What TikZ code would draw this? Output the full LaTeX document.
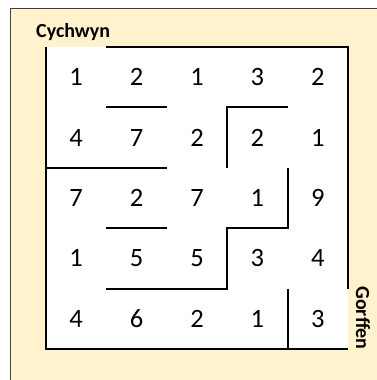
\documentclass[tikz,border=0pt]{standalone}
\usepackage{fontspec}
\setmainfont{Carlito}
\definecolor{bgyellow}{HTML}{FFF2CC}
\definecolor{bordergray}{HTML}{404040}
\begin{document}
\begin{tikzpicture}[x=1pt,y=-1pt,
  wall/.style={line width=2pt,black,line join=miter},
  digit/.style={font=\fontsize{26.5}{30}\selectfont,inner sep=0pt,anchor=center},
  label/.style={font=\fontsize{20}{24}\selectfont\bfseries,inner sep=0pt}]
\useasboundingbox (0,0) rectangle (377,380);
\clip (0,0) rectangle (377,380);
\draw[fill=bgyellow,draw=bordergray,line width=0.8pt] (10.3,8) rectangle (400,400);
\fill[white] (46,47) rectangle (348,349);
\begin{scope}[shift={(46,47)},x=60.4pt,y=-60.4pt]
  % numbers
  \foreach \r/\row in {1/{1,2,1,3,2},2/{4,7,2,2,1},3/{7,2,7,1,9},4/{1,5,5,3,4},5/{4,6,2,1,3}}{
    \foreach \v [count=\c] in \row {
      \node[digit] (n\r-\c) at (\c-0.5,\r-0.5) {\v};
    }
  }
  % outer walls
  \draw[wall] (1,0) -- (5,0) -- (5,4);
  \draw[wall] (0,0) -- (0,5) -- (5,5);
  % inner walls
  \draw[wall] (1,1) -- (2,1);
  \draw[wall] (3,2) -- (3,1) -- (4,1);
  \draw[wall] (0,2) -- (2,2);
  \draw[wall] (1,3) -- (2,3);
  \draw[wall] (1,4) -- (3,4) -- (3,3) -- (4,3) -- (4,2);
  \draw[wall] (4,4) -- (4,5);
\end{scope}
\node[label,anchor=base west] (start) at (36,37.7) {Cychwyn};
\node[label,rotate=-90] (finish) at (363,318) {Gorffen};
\end{tikzpicture}
\end{document}
